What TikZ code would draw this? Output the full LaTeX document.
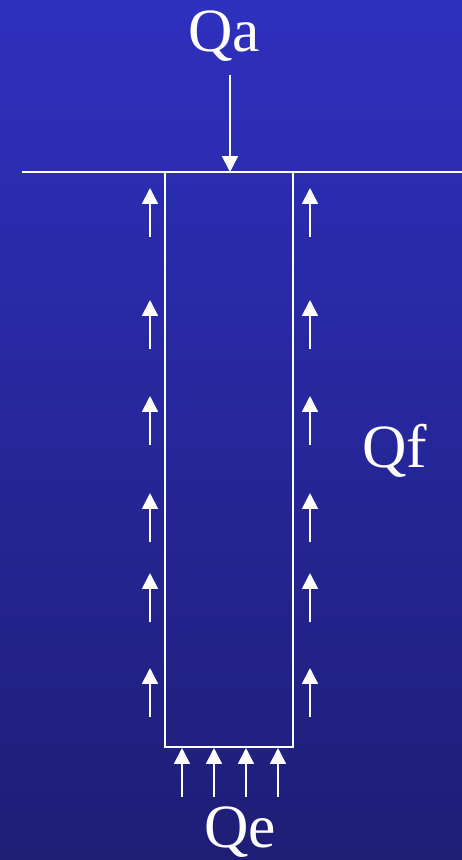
\documentclass[tikz,border=0pt]{standalone}
\usepackage{fontspec}
\setmainfont{Liberation Serif}
\usepackage{xcolor}
\usetikzlibrary{arrows.meta, positioning}
\definecolor{skytop}{HTML}{2E30BF}
\definecolor{skybot}{HTML}{1E1E76}
\tikzset{
  load/.style={text=white, font=\fontsize{35}{40}\selectfont, inner sep=0pt},
  pile/.style={draw=white, line width=1.1pt},
  uparr/.style={-{Triangle[width=9pt, length=9pt]}, white, line width=1.1pt},
}

\begin{document}
\begin{tikzpicture}[x=0.02cm, y=-0.02cm]
\shade[top color=skytop, bottom color=skybot] (0,0) rectangle (462,860);
\useasboundingbox (0,0) rectangle (462,860);
% ground and pile
\coordinate (gl) at (22,172);
\coordinate (gr) at (462,172);
\coordinate (head) at (230,172);
\draw[pile] (gl) -- (gr);
\draw[pile] (165,172) rectangle (293,747);
% loads
\node[load] (qa) at (224,36) {Qa};
\node[load] (qf) at (395,451) {Qf};
\node[load] (qe) at (240,832) {Qe};
\coordinate (qatail) at (230,75);
\draw[uparr] (qatail) -- (head);
% shaft friction
\foreach \t [count=\i] in {188,300,396,493,573,668}{
  \coordinate (lt\i) at (150,\t+49);
  \coordinate (lh\i) at (150,\t);
  \coordinate (rt\i) at (310,\t+49);
  \coordinate (rh\i) at (310,\t);
  \draw[uparr] (lt\i) -- (lh\i);
  \draw[uparr] (rt\i) -- (rh\i);
}
% end bearing
\foreach \x [count=\i] in {182,214,246,278}{
  \coordinate (bt\i) at (\x,797);
  \coordinate (bh\i) at (\x,748);
  \draw[uparr] (bt\i) -- (bh\i);
}
\end{tikzpicture}
\end{document}
